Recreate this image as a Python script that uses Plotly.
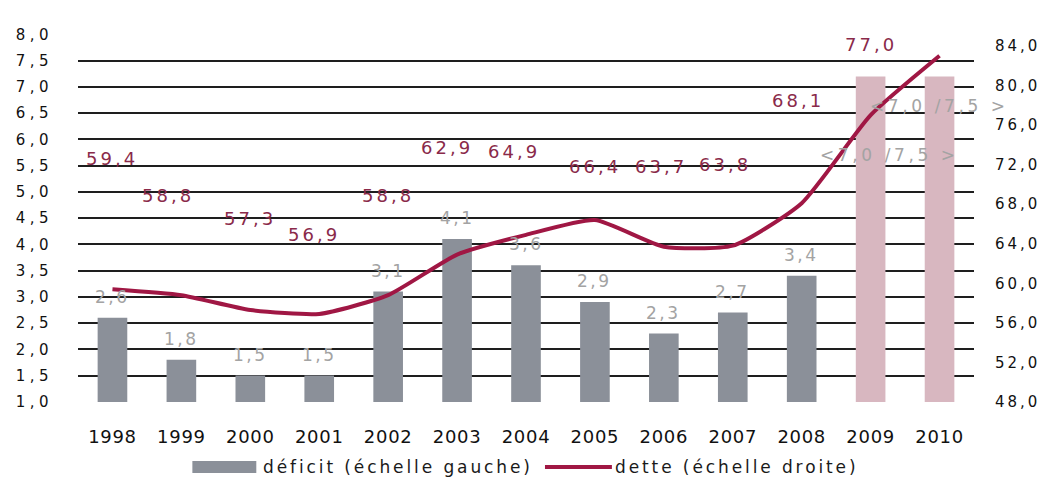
import plotly.graph_objects as go

# ---------------- data ----------------
years = ["1998", "1999", "2000", "2001", "2002", "2003", "2004",
         "2005", "2006", "2007", "2008", "2009", "2010"]
deficit = [2.6, 1.8, 1.5, 1.5, 3.1, 4.1, 3.6, 2.9, 2.3, 2.7, 3.4, 7.2, 7.2]
deficit_labels = ["2,6", "1,8", "1,5", "1,5", "3,1", "4,1", "3,6",
                  "2,9", "2,3", "2,7", "3,4", "<7,0 /7,5 >", "<7,0 /7,5 >"]
dette = [59.4, 58.8, 57.3, 56.9, 58.8, 62.9, 64.9, 66.4, 63.7, 63.8, 68.1, 77.0, 83.0]
dette_labels = ["59,4", "58,8", "57,3", "56,9", "58,8", "62,9", "64,9",
                "66,4", "63,7", "63,8", "68,1", "77,0", "83,0"]
left_ticks = [1.0, 1.5, 2.0, 2.5, 3.0, 3.5, 4.0, 4.5, 5.0, 5.5, 6.0, 6.5, 7.0, 7.5, 8.0]
left_ticktext = ["1,0", "1,5", "2,0", "2,5", "3,0", "3,5", "4,0", "4,5",
                 "5,0", "5,5", "6,0", "6,5", "7,0", "7,5", "8,0"]
right_ticks = [48, 52, 56, 60, 64, 68, 72, 76, 80, 84]
right_ticktext = ["48,0", "52,0", "56,0", "60,0", "64,0", "68,0", "72,0",
                  "76,0", "80,0", "84,0"]
legend_names = ["déficit (échelle gauche)", "dette (échelle droite)"]

# label placement (styling, not data)
dette_label_y = [72.6, 68.9, 66.6, 64.9, 68.9, 73.7, 73.3, 71.8, 71.8, 72.0, 78.5, 84.1, 86.6]
dette_label_dx = [0, -13, 0, -5, 0, -10, -12, 0, -3, -8, -4, 0, 18]
forecast_label_y = {11: 5.7, 12: 6.63}
forecast_label_dx = {11: 19, 12: 0}

# ---------------- style ----------------
GRAY = "#8b9099"
PINK = "#d8b7c0"
CRIMSON = "#a01744"
LABEL_RED = "#8a2a4a"
LABEL_GRAY = "#a3a3a3"
FONT = "DejaVu Sans"
W, H = 1051, 486
ML, MR, MT, MB = 77.5, 76.5, 34, 84


def sp(text, px):
    return f'<span style="letter-spacing:{px}px">{text}</span>'


bar_colors = [GRAY] * 11 + [PINK] * 2

fig = go.Figure()
fig.add_trace(go.Bar(
    x=years, y=deficit, marker=dict(color=bar_colors, line=dict(width=0)),
    yaxis="y", showlegend=False, hoverinfo="skip",
))
fig.add_trace(go.Scatter(
    x=years, y=dette, yaxis="y2", mode="lines",
    line=dict(color=CRIMSON, width=4, shape="spline", smoothing=0.55),
    showlegend=False, hoverinfo="skip",
))

annotations = []
for i, (v, lab) in enumerate(zip(deficit, deficit_labels)):
    if i in forecast_label_y:
        annotations.append(dict(
            x=i, y=forecast_label_y[i], xref="x", yref="y", xshift=forecast_label_dx[i],
            text=sp(lab, 3.6), showarrow=False,
            font=dict(family=FONT, size=17, color=LABEL_GRAY)))
    else:
        annotations.append(dict(
            x=i, y=v, xref="x", yref="y", yshift=21,
            text=sp(lab, 2.5), showarrow=False,
            font=dict(family=FONT, size=17, color=LABEL_GRAY)))

for i, (ly, dx, lab) in enumerate(zip(dette_label_y, dette_label_dx, dette_labels)):
    annotations.append(dict(
        x=i, y=ly, xref="x", yref="y2", xshift=dx,
        text=sp(lab, 3), showarrow=False,
        font=dict(family=FONT, size=18, color=LABEL_RED)))

# manual legend (paper coordinates computed from pixel layout)
pw = W - ML - MR
ph = H - MT - MB


def px2x(px):
    return (px - ML) / pw


def py2y(py):
    return (H - MB - py) / ph


shapes = [
    dict(type="rect", xref="paper", yref="paper",
         x0=px2x(192), x1=px2x(256), y0=py2y(473), y1=py2y(461),
         fillcolor=GRAY, line=dict(width=0)),
    dict(type="line", xref="paper", yref="paper",
         x0=px2x(545), x1=px2x(612), y0=py2y(467), y1=py2y(467),
         line=dict(color=CRIMSON, width=4)),
]
annotations.append(dict(x=px2x(261), y=py2y(467), xref="paper", yref="paper",
                        xanchor="left", yanchor="middle", showarrow=False,
                        text=sp(legend_names[0], 2.9),
                        font=dict(family=FONT, size=17, color="#1a1a1a")))
annotations.append(dict(x=px2x(613), y=py2y(467), xref="paper", yref="paper",
                        xanchor="left", yanchor="middle", showarrow=False,
                        text=sp(legend_names[1], 2.9),
                        font=dict(family=FONT, size=17, color="#1a1a1a")))

fig.update_layout(
    width=W, height=H,
    margin=dict(l=ML, r=MR, t=MT, b=MB, pad=0),
    paper_bgcolor="white", plot_bgcolor="white",
    bargap=0.57,
    showlegend=False,
    xaxis=dict(
        type="category", range=[-0.5, 12.5], tickmode="array", tickvals=years,
        ticktext=[sp(y, 0.7) for y in years], tickangle=0,
        tickfont=dict(family=FONT, size=18, color="#111"),
        showgrid=False, showline=False, ticks="", ticklabelstandoff=22,
    ),
    yaxis=dict(
        range=[0.995, 8.01], tickmode="array", tickvals=left_ticks,
        ticktext=[sp(t, 4.5) for t in left_ticktext],
        tickfont=dict(family=FONT, size=15, color="#111"),
        showgrid=True, gridcolor="#1e1e1e", gridwidth=1.6,
        zeroline=False, showline=False, ticks="", ticklabelstandoff=24,
    ),
    yaxis2=dict(
        overlaying="y", side="right", range=[48, 85.2],
        tickmode="array", tickvals=right_ticks,
        ticktext=[sp(t, 3) for t in right_ticktext],
        tickfont=dict(family=FONT, size=15, color="#111"),
        showgrid=False, zeroline=False, showline=False, ticks="",
        ticklabelstandoff=20,
    ),
    annotations=annotations,
    shapes=shapes,
)

fig.write_html("out.html")
